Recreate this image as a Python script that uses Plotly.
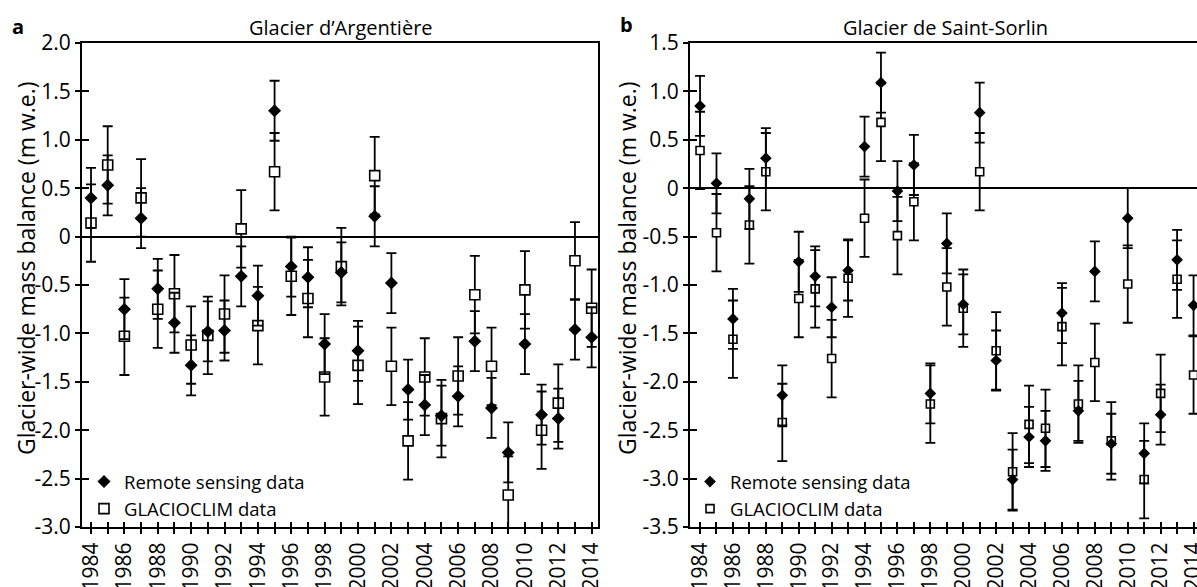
"""Glacier-wide mass balance: remote sensing vs GLACIOCLIM, two glaciers."""

import plotly.graph_objects as go

YEARS = list(range(1984, 2015))

# Glacier d'Argentière (m w.e.)
ARG_RS = [0.40, 0.53, -0.75, 0.19, -0.54, -0.89, -1.33, -0.98, -0.97, -0.41,
          -0.61, 1.30, -0.31, -0.42, -1.11, -0.37, -1.18, 0.21, -0.48, -1.58,
          -1.74, -1.85, -1.65, -1.08, -1.77, -2.23, -1.11, -1.84, -1.88, -0.96,
          -1.04]
ARG_GL = [0.14, 0.74, -1.03, 0.40, -0.75, -0.59, -1.12, -1.02, -0.80, 0.08,
          -0.92, 0.67, -0.41, -0.64, -1.45, -0.31, -1.33, 0.63, -1.34, -2.11,
          -1.45, -1.88, -1.44, -0.60, -1.34, -2.67, -0.55, -2.00, -1.72, -0.25,
          -0.74]

# Glacier de Saint-Sorlin (m w.e.)
SSO_RS = [0.85, 0.05, -1.35, -0.11, 0.31, -2.14, -0.76, -0.91, -1.23, -0.85,
          0.43, 1.09, -0.03, 0.24, -2.12, -0.57, -1.20, 0.78, -1.78, -3.01,
          -2.57, -2.61, -1.29, -2.30, -0.86, -2.64, -0.31, -2.74, -2.34, -0.74,
          -1.21]
SSO_GL = [0.39, -0.46, -1.56, -0.38, 0.17, -2.42, -1.14, -1.04, -1.76, -0.93,
          -0.31, 0.68, -0.49, -0.14, -2.23, -1.02, -1.24, 0.17, -1.68, -2.93,
          -2.44, -2.48, -1.43, -2.23, -1.80, -2.61, -0.99, -3.01, -2.12, -0.94,
          -1.93]

RS_ERR = 0.31
GL_ERR = 0.40

ARG_YTICKS = [2.0, 1.5, 1.0, 0.5, 0, -0.5, -1.0, -1.5, -2.0, -2.5, -3.0]
ARG_YTEXT = ["2.0", "1.5", "1.0", "0.5", "0", "-0.5", "-1.0", "-1.5", "-2.0", "-2.5", "-3.0"]
SSO_YTICKS = [1.5, 1.0, 0.5, 0, -0.5, -1.0, -1.5, -2.0, -2.5, -3.0, -3.5]
SSO_YTEXT = ["1.5", "1.0", "0.5", "0", "-0.5", "-1.0", "-1.5", "-2.0", "-2.5", "-3.0", "-3.5"]
XTICKS = YEARS
XTEXT = [str(y) if y % 2 == 0 else "" for y in YEARS]

W, H = 1197, 587
FONT = "Open Sans"


def px_x(p):
    return p / W


def px_y(p):
    return (H - p) / H


def err(value, n):
    return dict(type="data", array=[value] * n, color="black", thickness=1.8, width=5)


fig = go.Figure()

panels = [
    ("x", "y", ARG_RS, ARG_GL, 10, 10, "legend"),
    ("x2", "y2", SSO_RS, SSO_GL, 9, 8, "legend2"),
]
for xa, ya, rs, gl, dsize, ssize, leg in panels:
    fig.add_trace(go.Scatter(
        x=YEARS, y=gl, mode="markers", name="GLACIOCLIM data",
        xaxis=xa, yaxis=ya, legend=leg, legendrank=2,
        marker=dict(symbol="square", size=ssize, color="white",
                    line=dict(color="black", width=1.6)),
        error_y=err(GL_ERR, len(gl)),
    ))
    fig.add_trace(go.Scatter(
        x=YEARS, y=rs, mode="markers", name="Remote sensing data",
        xaxis=xa, yaxis=ya, legend=leg, legendrank=1,
        marker=dict(symbol="diamond", size=dsize, color="black"),
        error_y=err(RS_ERR, len(rs)),
    ))

# empty traces for the overlay axes that draw the inner half of the ticks
for xa, ya in [("x3", "y3"), ("x4", "y4")]:
    fig.add_trace(go.Scatter(x=[], y=[], xaxis=xa, yaxis=ya, showlegend=False))

dom_a = [px_x(82), px_x(598)]
dom_b = [px_x(690), 1.0]
dom_y = [px_y(527), px_y(43)]
rng_a = [1983.46, 2014.38]
rng_b = [1983.39, 2014.21]

tickfont = dict(family=FONT, size=21, color="black")
xbase = dict(showgrid=False, zeroline=False, showline=True, linecolor="black",
             linewidth=2, ticks="outside", ticklen=5, tickwidth=1.5, tickcolor="black",
             tickvals=XTICKS, ticktext=XTEXT, tickangle=-90, tickfont=tickfont,
             automargin=False, ticklabeloverflow="allow")
ybase = dict(showgrid=False, zeroline=True, zerolinecolor="black", zerolinewidth=1.6,
             showline=True, linecolor="black", linewidth=2, ticks="outside",
             ticklen=5, tickwidth=1.5, tickcolor="black", tickfont=tickfont,
             automargin=False)
xin = dict(showgrid=False, zeroline=False, showline=False, ticks="inside", ticklen=5,
           tickwidth=1.5, tickcolor="black", tickvals=XTICKS, showticklabels=False,
           automargin=False)
yin = dict(showgrid=False, zeroline=False, showline=False, ticks="inside", ticklen=7,
           tickwidth=1.5, tickcolor="black", showticklabels=False, automargin=False)

legfont = dict(family=FONT, size=18.5)
fig.update_layout(
    width=W, height=H,
    margin=dict(l=0, r=0, t=0, b=0, autoexpand=False),
    plot_bgcolor="white", paper_bgcolor="white",
    font=dict(family=FONT, size=18, color="black"),
    xaxis=dict(xbase, domain=dom_a, range=rng_a, anchor="y", mirror=True),
    yaxis=dict(ybase, domain=dom_y, range=[-3.0, 2.0], anchor="x", mirror=True,
               tickvals=ARG_YTICKS, ticktext=ARG_YTEXT),
    xaxis2=dict(xbase, domain=dom_b, range=rng_b, anchor="y2", mirror=True),
    yaxis2=dict(ybase, domain=dom_y, range=[-3.5, 1.5], anchor="x2", mirror=False,
                tickvals=SSO_YTICKS, ticktext=SSO_YTEXT),
    xaxis3=dict(xin, overlaying="x", range=rng_a, anchor="y3"),
    yaxis3=dict(yin, overlaying="y", range=[-3.0, 2.0], anchor="x3", tickvals=ARG_YTICKS),
    xaxis4=dict(xin, overlaying="x2", range=rng_b, anchor="y4"),
    yaxis4=dict(yin, overlaying="y2", range=[-3.5, 1.5], anchor="x4", tickvals=SSO_YTICKS),
    legend=dict(x=px_x(84), y=px_y(463), xanchor="left", yanchor="top",
                bgcolor="rgba(0,0,0,0)", font=legfont, tracegroupgap=0, itemwidth=30),
    legend2=dict(x=px_x(690), y=px_y(463), xanchor="left", yanchor="top",
                 bgcolor="rgba(0,0,0,0)", font=legfont, tracegroupgap=0, itemwidth=30),
    showlegend=True,
)

annots = [
    dict(text="<b>a</b>", x=px_x(18), y=px_y(26), font=dict(size=20)),
    dict(text="<b>b</b>", x=px_x(626), y=px_y(24), font=dict(size=20)),
    dict(text="Glacier d’Argentière", x=px_x(341), y=px_y(27), font=dict(size=20)),
    dict(text="Glacier de Saint-Sorlin", x=px_x(945), y=px_y(27), font=dict(size=20)),
    dict(text="Glacier-wide mass balance (m w.e.)", x=px_x(26), y=px_y(268),
         textangle=-90, font=dict(size=23)),
    dict(text="Glacier-wide mass balance (m w.e.)", x=px_x(627), y=px_y(268),
         textangle=-90, font=dict(size=23)),
]
for a in annots:
    fig.add_annotation(xref="paper", yref="paper", showarrow=False,
                       xanchor="center", yanchor="middle", **a)

# drop the default body margin so the figure fills the window exactly
fig.write_html("out.html", config={"displayModeBar": False},
               post_script="document.body.style.margin = '0';")
